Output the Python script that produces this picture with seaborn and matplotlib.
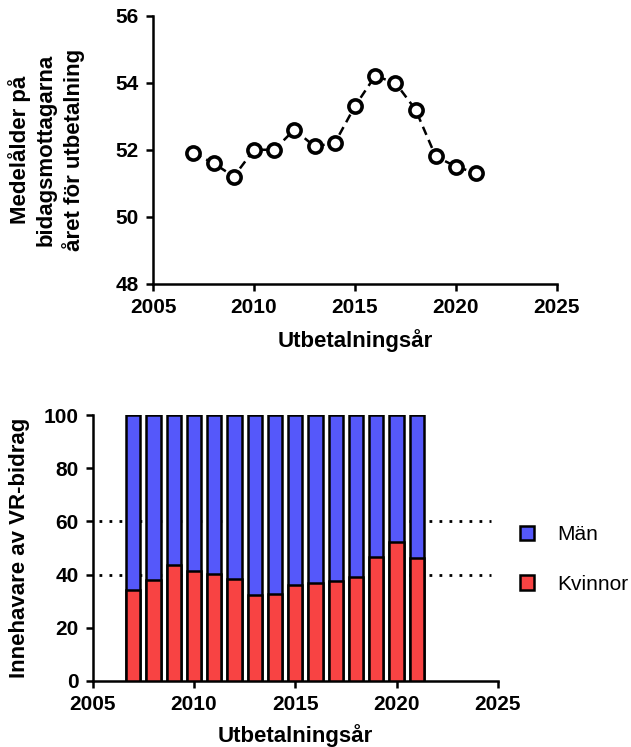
import matplotlib
matplotlib.use("Agg")
import matplotlib.pyplot as plt
from matplotlib.patches import Patch
import seaborn as sns
import pandas as pd

# data
years = [2007, 2008, 2009, 2010, 2011, 2012, 2013, 2014, 2015, 2016, 2017, 2018, 2019, 2020, 2021]
mean_age = [51.9, 51.6, 51.2, 52.0, 52.0, 52.6, 52.1, 52.2, 53.3, 54.2, 54.0, 53.2, 51.8, 51.5, 51.3]
kvinnor = [34.3, 37.9, 43.6, 41.5, 40.3, 38.5, 32.2, 32.8, 36.2, 36.9, 37.7, 39.0, 46.8, 52.1, 46.3]
man = [65.7, 62.1, 56.4, 58.5, 59.7, 61.5, 67.8, 67.2, 63.8, 63.1, 62.3, 61.0, 53.2, 47.9, 53.7]
ref_lines = [40, 60]
xticks = [2005, 2010, 2015, 2020, 2025]

sns.set_style("ticks")
plt.rcParams['font.family'] = ['Liberation Sans', 'DejaVu Sans']
for key in ['text.color', 'axes.labelcolor', 'xtick.color', 'ytick.color', 'axes.edgecolor']:
    plt.rcParams[key] = 'black'

blue = '#5558FA'
red = '#F84343'

df = pd.DataFrame({'year': years, 'age': mean_age, 'kvinnor': kvinnor, 'man': man})
df['total'] = df['kvinnor'] + df['man']

fig = plt.figure(figsize=(6.31, 7.47), dpi=100)

def style_axes(ax):
    sns.despine(ax=ax)
    for s in ['left', 'bottom']:
        ax.spines[s].set_linewidth(1.8)
    ax.tick_params(width=1.8, length=5, labelsize=15, pad=5)
    for lab in ax.get_xticklabels() + ax.get_yticklabels():
        lab.set_fontweight('bold')

# top chart: mean age
ax1 = fig.add_axes([0.2425, 0.620, 0.640, 0.359])
sns.lineplot(data=df, x='year', y='age', ax=ax1, color='black', linewidth=1.8,
             marker='o', markersize=9.5, markerfacecolor='white',
             markeredgecolor='black', markeredgewidth=2.6)
ax1.lines[0].set_dashes((3.5, 2.2))
ax1.set_xlim(2005, 2025)
ax1.set_ylim(48, 56)
ax1.set_xticks(xticks)
ax1.set_yticks([48, 50, 52, 54, 56])
ax1.set_xlabel('Utbetalningsår', fontsize=16, fontweight='bold', labelpad=9)
ax1.set_ylabel('Medelålder på\nbidagsmottagarna\nåret för utbetalning', fontsize=16,
               fontweight='bold', labelpad=22, linespacing=1.3)
style_axes(ax1)

# bottom chart: share by gender, stacked
ax2 = fig.add_axes([0.147, 0.0884, 0.642, 0.356])
ax2.hlines(ref_lines, 2005.3, 2024.65, colors='black', linewidth=2,
           linestyles=(0, (1, 2.6)), zorder=0, clip_on=False)
sns.barplot(data=df, x='year', y='total', ax=ax2, native_scale=True, width=0.7,
            color=blue, saturation=1, edgecolor='black', linewidth=1.8, zorder=2)
sns.barplot(data=df, x='year', y='kvinnor', ax=ax2, native_scale=True, width=0.7,
            color=red, saturation=1, edgecolor='black', linewidth=1.8, zorder=3)
ax2.set_xlim(2005, 2025)
ax2.set_ylim(0, 100)
ax2.set_xticks(xticks)
ax2.set_xticklabels([str(t) for t in xticks])
ax2.set_yticks([0, 20, 40, 60, 80, 100])
ax2.set_xlabel('Utbetalningsår', fontsize=16, fontweight='bold', labelpad=7)
ax2.set_ylabel('Innehavare av VR-bidrag', fontsize=16, fontweight='bold', labelpad=10)
style_axes(ax2)

handles = [Patch(facecolor=blue, edgecolor='black', linewidth=1.8),
           Patch(facecolor=red, edgecolor='black', linewidth=1.8)]
fig.legend(handles, ['Män', 'Kvinnor'], loc='center left', bbox_to_anchor=(0.794, 0.251),
           frameon=False, fontsize=15, handlelength=0.7, handleheight=0.7,
           handletextpad=1.1, labelspacing=1.45)

fig.savefig('out.png', dpi=100)
